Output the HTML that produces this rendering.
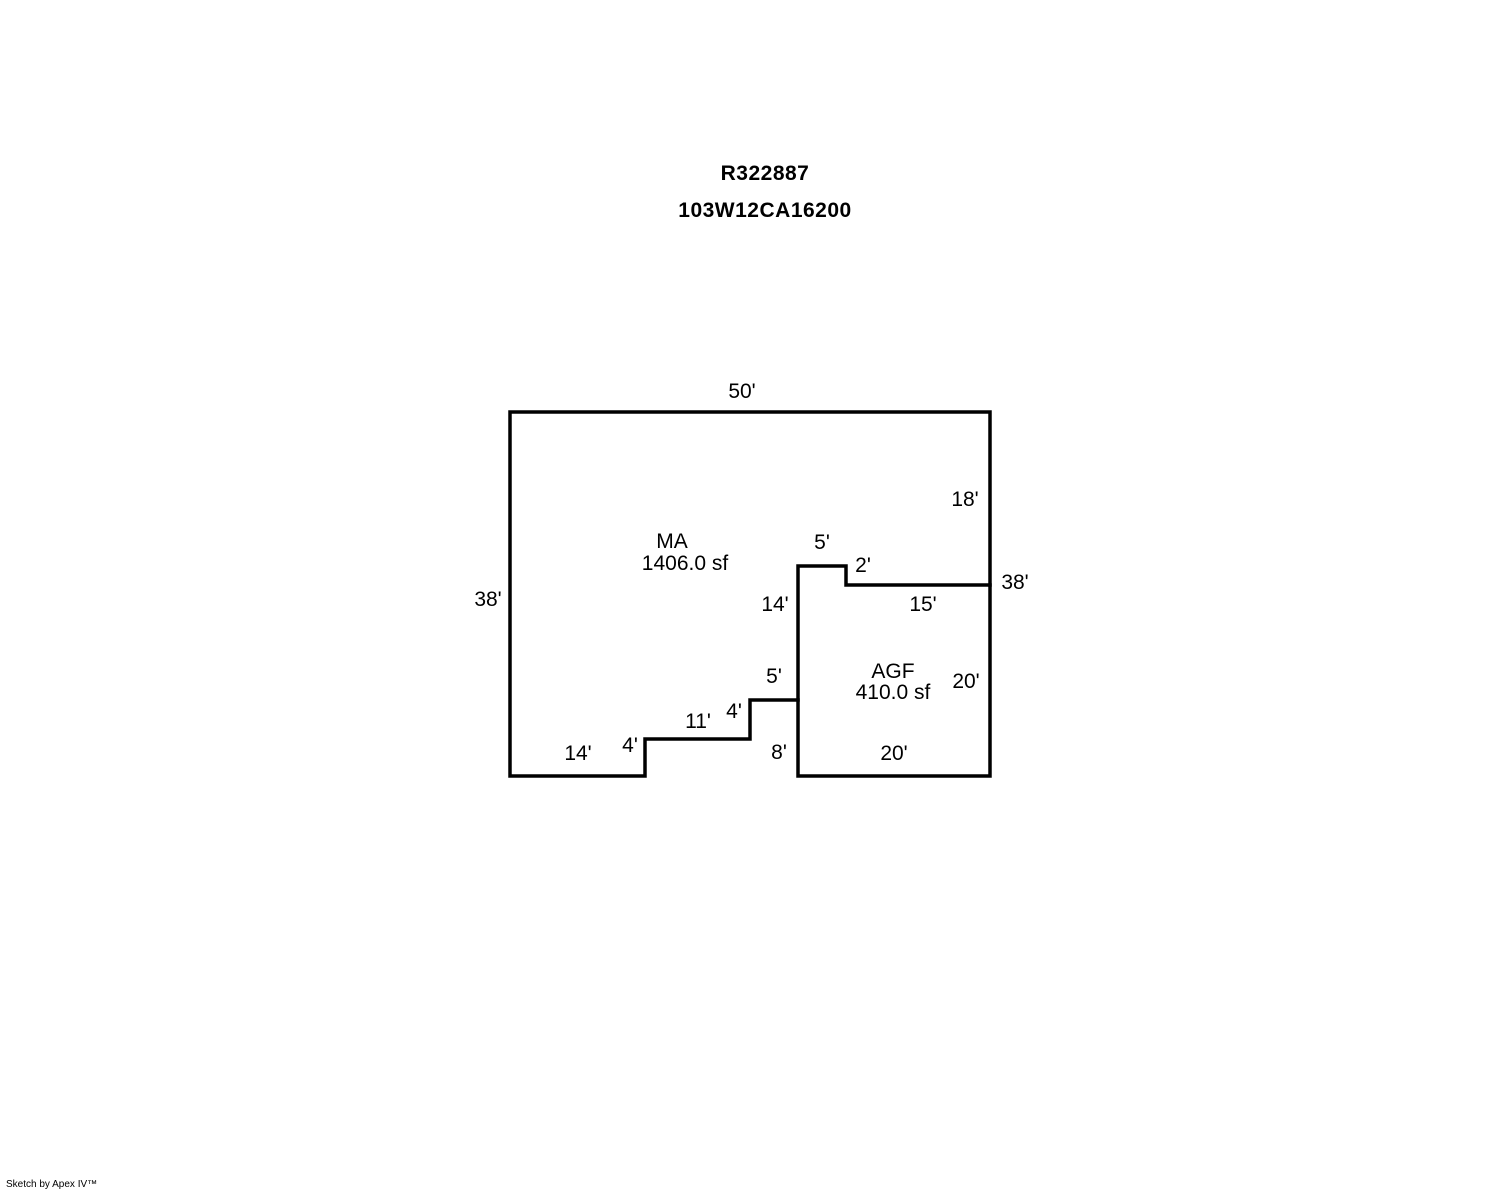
<!DOCTYPE html>
<html><head><style>
body{margin:0;background:#fff;}
svg{display:block}
text{font-family:"Liberation Sans",Arial,sans-serif;font-size:21px;fill:#000}
</style></head><body>
<svg width="1488" height="1190" viewBox="0 0 1488 1190">
<g fill="none" stroke="#000" stroke-width="3.5" stroke-linecap="square">
<polyline points="798,700 750,700 750,739 645,739 645,776 510,776 510,412 990,412 990,585"/>
<polygon points="798,566 846,566 846,585 990,585 990,776 798,776"/>
</g>
<text x="765" y="180" text-anchor="middle" font-weight="bold" style="font-size:21px;letter-spacing:0.5px">R322887</text>
<text x="765" y="217" text-anchor="middle" font-weight="bold" style="font-size:21px;letter-spacing:0.5px">103W12CA16200</text>
<text x="742" y="398" text-anchor="middle">50'</text>
<text x="965" y="506" text-anchor="middle">18'</text>
<text x="672" y="548" text-anchor="middle">MA</text>
<text x="685" y="570" text-anchor="middle">1406.0 sf</text>
<text x="822" y="549" text-anchor="middle">5'</text>
<text x="863" y="572" text-anchor="middle">2'</text>
<text x="1015" y="589" text-anchor="middle">38'</text>
<text x="488" y="606" text-anchor="middle">38'</text>
<text x="775" y="611" text-anchor="middle">14'</text>
<text x="923" y="611" text-anchor="middle">15'</text>
<text x="893" y="678" text-anchor="middle">AGF</text>
<text x="893" y="699" text-anchor="middle">410.0 sf</text>
<text x="774" y="683" text-anchor="middle">5'</text>
<text x="966" y="688" text-anchor="middle">20'</text>
<text x="734" y="718" text-anchor="middle">4'</text>
<text x="698" y="728" text-anchor="middle">11'</text>
<text x="630" y="752" text-anchor="middle">4'</text>
<text x="578" y="760" text-anchor="middle">14'</text>
<text x="779" y="759" text-anchor="middle">8'</text>
<text x="894" y="760" text-anchor="middle">20'</text>
<text x="6" y="1187" style="font-size:10px">Sketch by Apex IV™</text>
</svg>
</body></html>
